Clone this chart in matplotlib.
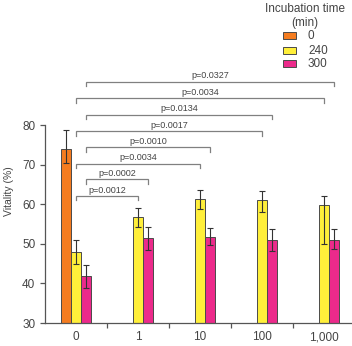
import matplotlib
matplotlib.use("Agg")
import matplotlib.pyplot as plt
from matplotlib.patches import Rectangle
import numpy as np

plt.rcParams['font.family'] = ['Liberation Sans', 'DejaVu Sans']

categories = ["0", "1", "10", "100", "1,000"]
legend_labels = ["0", "240", "300"]

# group 0 only has the 0-min bar
v0 = [74.0]
v0_lo = [3.6]
v0_hi = [4.9]

v240 = [47.9, 56.7, 61.3, 61.0, 59.8]
v240_lo = [3.1, 2.5, 2.5, 2.9, 9.8]
v240_hi = [3.2, 2.5, 2.4, 2.5, 2.2]

v300 = [41.8, 51.5, 51.7, 51.1, 51.1]
v300_lo = [2.9, 3.0, 2.1, 2.8, 2.4]
v300_hi = [2.9, 2.7, 2.3, 2.7, 2.7]

# comparisons: (from series, from group, to series, to group, label)
comparisons = [
    ("240", 0, "240", 1, "p=0.0012"),
    ("300", 0, "300", 1, "p=0.0002"),
    ("240", 0, "240", 2, "p=0.0034"),
    ("300", 0, "300", 2, "p=0.0010"),
    ("240", 0, "240", 3, "p=0.0017"),
    ("300", 0, "300", 3, "p=0.0134"),
    ("240", 0, "240", 4, "p=0.0034"),
    ("300", 0, "300", 4, "p=0.0327"),
]
bracket_y = [62.1, 66.3, 70.3, 74.4, 78.5, 82.7, 86.8, 91.0]

colors = {"0": "#F47C20", "240": "#FFEF3A", "300": "#EC2A8B"}
edge = "#4a4a4a"
txt = "#444444"

fig = plt.figure(figsize=(3.52, 3.46), dpi=100)
W, H = 352, 346
ax = fig.add_axes([45 / W, 23 / H, (352 - 45) / W, (323 - 60) / H])

w = 0.16
x = np.arange(len(categories))
offs = {"0": -w, "240": 0.0, "300": w}
ekw = dict(ecolor="#333333", elinewidth=0.8, capsize=2.5, capthick=0.8)

ax.bar([0 + offs["0"]], v0, width=w, color=colors["0"], edgecolor=edge, linewidth=0.7,
       yerr=[v0_lo, v0_hi], error_kw=ekw)
ax.bar(x + offs["240"], v240, width=w, color=colors["240"], edgecolor=edge, linewidth=0.7,
       yerr=[v240_lo, v240_hi], error_kw=ekw)
ax.bar(x + offs["300"], v300, width=w, color=colors["300"], edgecolor=edge, linewidth=0.7,
       yerr=[v300_lo, v300_hi], error_kw=ekw)

drop = 1.1
for (s1, g1, s2, g2, lab), yb in zip(comparisons, bracket_y):
    x1 = g1 + offs[s1]
    x2 = g2 + offs[s2]
    ax.plot([x1, x1, x2, x2], [yb - drop, yb, yb, yb - drop], color="#808080", lw=0.9,
            clip_on=False, solid_joinstyle="miter")
    ax.text((x1 + x2) / 2, yb + 0.35, lab, ha="center", va="bottom", fontsize=6.5, color=txt)

ax.set_xlim(-0.5, 4.45)
ax.set_ylim(30, 96.5)
ax.spines["top"].set_visible(False)
ax.spines["right"].set_visible(False)
ax.spines["left"].set_bounds(30, 80)
for s in ("left", "bottom"):
    ax.spines[s].set_color("#555555")
    ax.spines[s].set_linewidth(0.9)
ax.set_yticks([30, 40, 50, 60, 70, 80])
ax.set_xticks(x)
ax.set_xticklabels(categories)
ax.set_xticks(x[:-1] + 0.5, minor=True)
ax.tick_params(axis="x", which="major", length=0, labelsize=8.5, labelcolor=txt, pad=6)
ax.tick_params(axis="x", which="minor", length=3.5, color="#555555", width=0.9)
ax.tick_params(axis="y", length=3.5, color="#555555", width=0.9, labelsize=8.5, labelcolor=txt)
ax.set_ylabel("Vitality (%)", fontsize=7.5, color=txt, labelpad=6)

# legend drawn in figure pixel coordinates
fig.text(305 / W, 1 - 9 / H, "Incubation time", ha="center", va="center", fontsize=8.5, color=txt)
fig.text(305 / W, 1 - 23 / H, "(min)", ha="center", va="center", fontsize=8.5, color=txt)
row_y = [35.5, 50, 63.5]
for lab, ry in zip(legend_labels, row_y):
    fig.patches.append(Rectangle((283 / W, 1 - (ry + 3.5) / H), 13 / W, 7 / H,
                                 transform=fig.transFigure, facecolor=colors[lab],
                                 edgecolor=edge, linewidth=0.7))
    fig.text(308 / W, 1 - (ry + 3.5) / H, lab, ha="left", va="baseline", fontsize=8.5, color=txt)

fig.savefig("out.png", dpi=100)
